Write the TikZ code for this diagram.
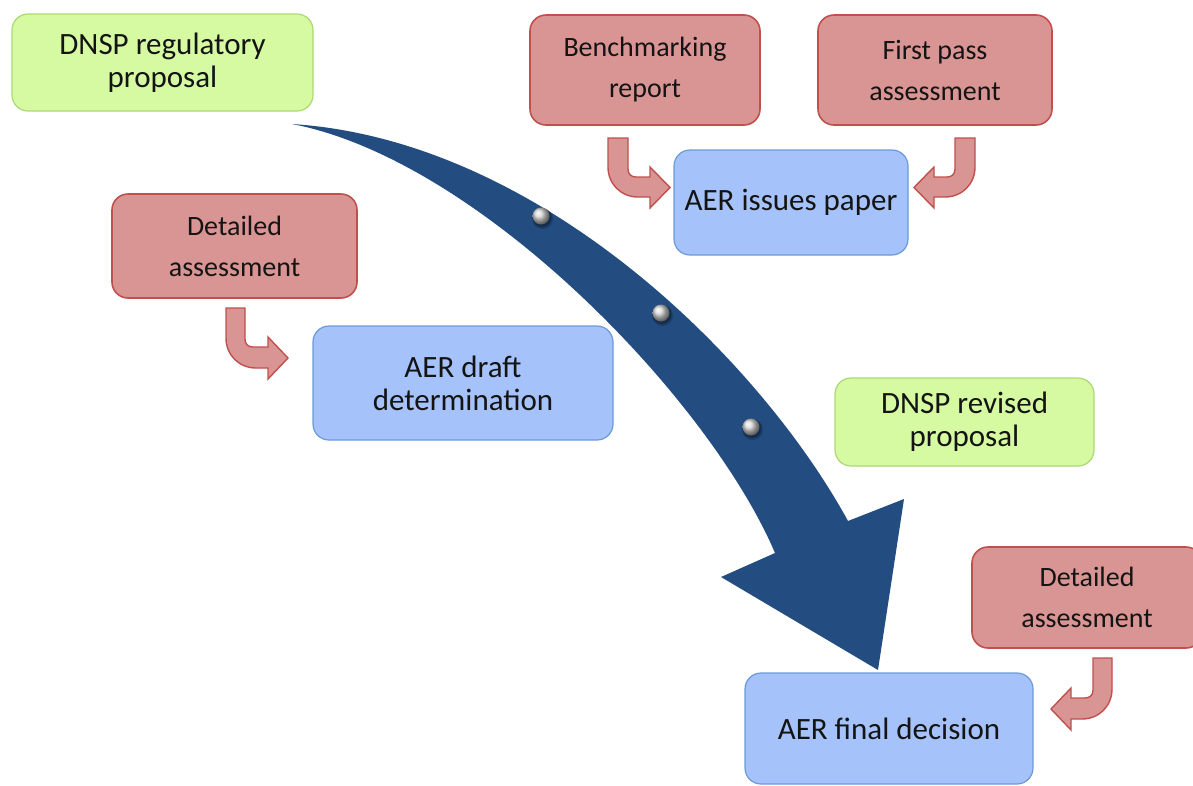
\documentclass[tikz,border=0pt]{standalone}
\usepackage{fontspec}
\setmainfont{Carlito}
\definecolor{gfill}{HTML}{D6FAA2}
\definecolor{gdraw}{HTML}{ACD873}
\definecolor{rfill}{HTML}{D99594}
\definecolor{rdraw}{HTML}{C0504D}
\definecolor{bfill}{HTML}{A5C3FA}
\definecolor{bdraw}{HTML}{6C9AD8}
\definecolor{arrowblue}{HTML}{234D80}
\begin{document}
\begin{tikzpicture}[x=1pt,y=-1pt,
  basebox/.style={rounded corners=16pt, align=center, inner sep=0pt, text=black!92},
  greenbox/.style={basebox, fill=gfill, draw=gdraw, line width=1.2pt, font=\fontsize{31}{33}\selectfont},
  bluebox/.style={basebox, fill=bfill, draw=bdraw, line width=1.2pt, font=\fontsize{31}{33}\selectfont},
  redbox/.style={basebox, fill=rfill, draw=rdraw, line width=1.6pt, font=\fontsize{28}{41}\selectfont},
  bent/.style={fill=rfill, draw=rdraw, line width=1.4pt, line join=miter},
  dot/.style={shading=ball, ball color=gray!30!white}
]
\useasboundingbox (0,0) rectangle (1193,785);
\clip (0,0) rectangle (1193,785);

% big curved arrow
\fill[arrowblue] (292,124) .. controls (540,140) and (760,360) .. (848,521)
  -- (904,499) -- (878,670) -- (721,577) -- (775,553)
  .. controls (710,400) and (480,160) .. (292,124) -- cycle;
\foreach \p/\n in {{(541,216)}/d1,{(661,313)}/d2,{(751,427)}/d3}{
  \fill[black,opacity=0.2] \p ++(1.5,2.5) circle (10.5);
  \fill[black,opacity=0.25] \p ++(1,1.5) circle (9.5);
  \shade[dot] \p circle (8.5);
}

% boxes
\node[greenbox, minimum width=301, minimum height=97] (dnsp) at (162.5,62.5) {DNSP regulatory\\proposal};
\node[redbox, minimum width=230, minimum height=110] (bench) at (645,70) {Benchmarking\\report};
\node[redbox, minimum width=234, minimum height=110] (first) at (935,70) {First pass\\assessment};
\node[bluebox, minimum width=234, minimum height=105] (issues) at (791,202.5) {AER issues paper};
\node[redbox, minimum width=245, minimum height=104] (detl) at (234.5,246) {Detailed\\assessment};
\node[bluebox, minimum width=300, minimum height=114] (draft) at (463,383) {AER draft\\determination};
\node[greenbox, minimum width=259, minimum height=88] (revised) at (964.5,422) {DNSP revised\\proposal};
\node[redbox, minimum width=230, minimum height=101] (detr) at (1087,597.5) {Detailed\\assessment};
\node[bluebox, minimum width=288, minimum height=111] (final) at (889,728.5) {AER final decision};

% bent arrows
\draw[bent] (608,138) -- (628,138) -- (628,169) .. controls (628,174) and (631,177) .. (636,177)
  -- (650,177) -- (650,167) -- (670,187.5) -- (650,208) -- (650,197) -- (638,197)
  .. controls (621,197) and (608,184) .. (608,167) -- cycle;
\draw[bent] (975,138) -- (955,138) -- (955,169) .. controls (955,174) and (952,177) .. (947,177)
  -- (934,177) -- (934,167) -- (914,187.5) -- (934,208) -- (934,197) -- (945,197)
  .. controls (962,197) and (975,184) .. (975,167) -- cycle;
\draw[bent] (226,308) -- (245,308) -- (245,339) .. controls (245,344) and (248,347) .. (253,347)
  -- (268,347) -- (268,337) -- (288,358) -- (268,379) -- (268,368) -- (256,368)
  .. controls (239,368) and (226,355) .. (226,338) -- cycle;
\draw[bent] (1112,658) -- (1093,658) -- (1093,690) .. controls (1093,695) and (1090,698) .. (1085,698)
  -- (1071,698) -- (1071,688) -- (1051,709) -- (1071,730) -- (1071,719) -- (1082,719)
  .. controls (1099,719) and (1112,706) .. (1112,689) -- cycle;
\end{tikzpicture}
\end{document}
